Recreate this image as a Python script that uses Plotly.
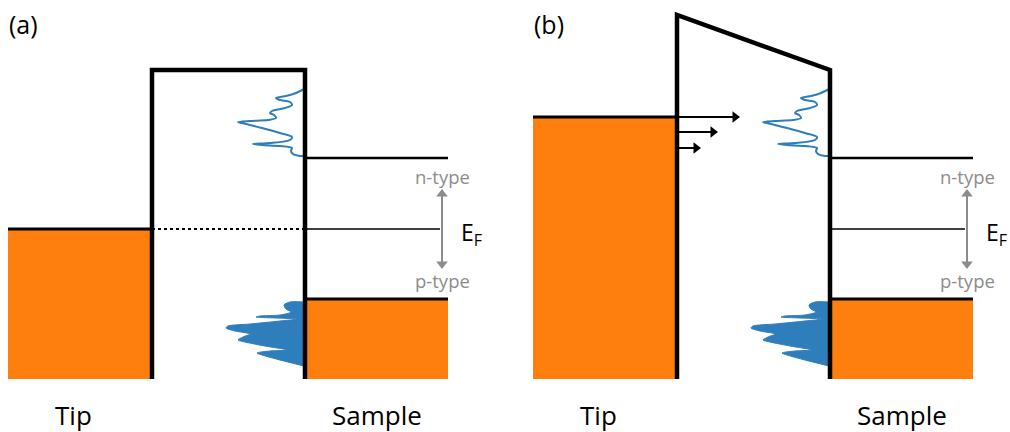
import plotly.graph_objects as go

# Canvas in pixel-like units (y grows downward)
W, H = 1010, 432

# Panel setup
panel_labels = ["(a)", "(b)"]
panel_offset = [0, 525]          # horizontal shift of panel (b)
tip_fermi = [229, 117]           # tip Fermi level (top of filled tip states)
barrier_top_left = [70, 15]      # vacuum level at the tip side
barrier_top_right = [70, 70]     # vacuum level at the sample side

# Geometry shared by both panels (panel a coordinates)
tip_x = [8, 152]
sample_x = [305, 448]
bottom_y = 379
cb_level = 158
ef_level = 229
vb_level = 299
ef_line_end = 440
doping_arrow_x = 442
doping_arrow_y = [189, 269]

# Sample density of states: conduction-band peaks (outline)
cb_dos_x = [304, 296, 286, 276, 280, 290, 292, 285, 272, 270, 274, 276, 268, 250, 238, 246,
            262, 280, 292, 290, 270, 253, 262, 280, 292, 291, 293, 300, 304]
cb_dos_y = [89, 93, 96, 98, 100, 102, 105, 108, 111, 113, 115, 118, 120, 121, 122, 124,
            128, 133, 137, 140, 143, 144, 145, 146, 148, 151, 154, 156, 156]

# Sample density of states: valence-band peaks (filled)
vb_dos_x = [304, 290, 284, 286, 291, 280, 260, 256, 275, 297, 280, 250, 228, 226, 235, 250,
            243, 238, 245, 265, 287, 270, 257, 262, 280, 304]
vb_dos_y = [302, 302, 305, 309, 312, 315, 316, 317, 318, 319, 321, 324, 326, 328, 331, 334,
            337, 340, 342, 346, 350, 351, 353, 355, 360, 366]

# Tunnelling arrows in panel (b): heights and tip positions past the barrier
tunnel_y = [117, 132, 148]
tunnel_len = [63, 41, 24]

bottom_labels = ["Tip", "Sample"]
bottom_label_x = [73, 377]

ORANGE = "#ff7f0e"
BLUE = "#2e7ebc"
GRAY = "#8c8c8c"
FONT = "Open Sans"

fig = go.Figure()


def add_line(xs, ys, width, color="black", dash="solid"):
    fig.add_trace(go.Scatter(x=xs, y=ys, mode="lines", hoverinfo="skip",
                             line=dict(color=color, width=width, dash=dash)))


def add_rect(x0, x1, y0, y1, color):
    fig.add_trace(go.Scatter(x=[x0, x1, x1, x0, x0], y=[y0, y0, y1, y1, y0],
                             mode="lines", fill="toself", fillcolor=color,
                             line=dict(width=0, color=color), hoverinfo="skip"))


def add_head(x, y, symbol, color, size=11):
    fig.add_trace(go.Scatter(x=[x], y=[y], mode="markers", hoverinfo="skip",
                             marker=dict(symbol=symbol, size=size, color=color,
                                         line=dict(width=0))))


annotations = []

for i, off in enumerate(panel_offset):
    tx0, tx1 = tip_x[0] + off, tip_x[1] + off
    sx0, sx1 = sample_x[0] + off, sample_x[1] + off

    # filled states
    add_rect(tx0, tx1, tip_fermi[i], bottom_y, ORANGE)
    add_rect(sx0, sx1, vb_level, bottom_y, ORANGE)

    # density of states
    fig.add_trace(go.Scatter(x=[v + off for v in vb_dos_x], y=vb_dos_y, mode="lines",
                             fill="toself", fillcolor=BLUE,
                             line=dict(color=BLUE, width=1, shape="spline", smoothing=0.8),
                             hoverinfo="skip"))
    fig.add_trace(go.Scatter(x=[v + off for v in cb_dos_x], y=cb_dos_y, mode="lines",
                             line=dict(color=BLUE, width=2, shape="spline", smoothing=0.8),
                             hoverinfo="skip"))

    # band edges
    add_line([tx0, tx1], [tip_fermi[i]] * 2, 3)
    add_line([sx0, sx1], [vb_level] * 2, 3)
    add_line([sx0, sx1], [cb_level] * 2, 2.5)
    add_line([sx0, ef_line_end + off], [ef_level] * 2, 1.5)
    if i == 0:
        add_line([tx1, sx0], [ef_level] * 2, 2, dash="dot")

    # vacuum barrier
    add_line([tx1, tx1, sx0, sx0],
             [bottom_y, barrier_top_left[i], barrier_top_right[i], bottom_y], 4.5)

    # doping arrow (double headed)
    ax = doping_arrow_x + off
    add_line([ax, ax], [doping_arrow_y[0] + 6, doping_arrow_y[1] - 6], 2, color=GRAY)
    add_head(ax, doping_arrow_y[0] + 5, "triangle-up", GRAY, 10)
    add_head(ax, doping_arrow_y[1] - 5, "triangle-down", GRAY, 10)

    annotations.append(dict(x=ax, y=176, text="n-type", showarrow=False,
                            font=dict(family=FONT, size=18.5, color=GRAY)))
    annotations.append(dict(x=ax, y=280, text="p-type", showarrow=False,
                            font=dict(family=FONT, size=18.5, color=GRAY)))
    annotations.append(dict(x=ax + 17, y=233, text="E<sub>F</sub>", showarrow=False,
                            xanchor="left",
                            font=dict(family=FONT, size=23, color="black")))

    # panel and region labels
    annotations.append(dict(x=7 + off, y=24, text=panel_labels[i], showarrow=False,
                            xanchor="left", font=dict(family=FONT, size=25, color="black")))
    for lab, lx in zip(bottom_labels, bottom_label_x):
        annotations.append(dict(x=lx + off, y=415, text=lab, showarrow=False,
                                font=dict(family=FONT, size=26, color="black")))

    # tunnelling arrows through the tilted barrier
    if i == 1:
        for ty, tl in zip(tunnel_y, tunnel_len):
            add_line([tx1, tx1 + tl - 6], [ty, ty], 2)
            add_head(tx1 + tl - 5, ty, "triangle-right", "black", 10)

fig.update_layout(
    width=W, height=H, margin=dict(l=0, r=0, t=0, b=0),
    paper_bgcolor="white", plot_bgcolor="white", showlegend=False,
    xaxis=dict(range=[0, W], visible=False, fixedrange=True),
    yaxis=dict(range=[H, 0], visible=False, fixedrange=True),
    annotations=annotations,
)

fig.write_html("out.html")
